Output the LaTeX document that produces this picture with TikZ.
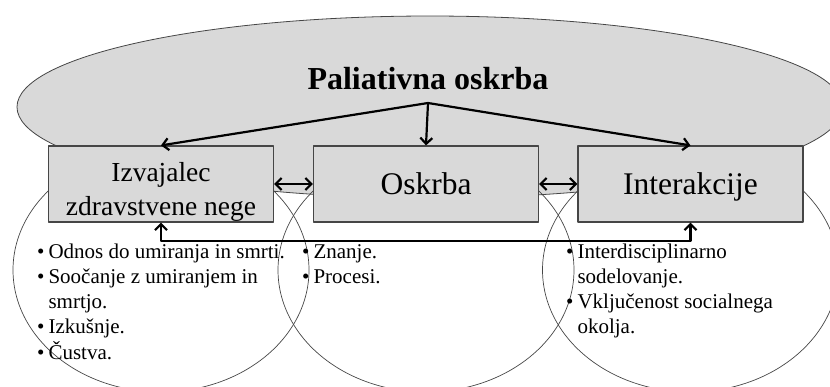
\documentclass[tikz,border=0pt]{standalone}
\usepackage{fontspec}
\setmainfont{Liberation Serif}
\usetikzlibrary{shapes,arrows.meta}
\definecolor{palgray}{RGB}{217,217,217}
\definecolor{edgegray}{RGB}{70,70,70}

\begin{document}
\begin{tikzpicture}[x=1pt,y=-1pt,>={Straight Barb[length=6pt,width=12pt]},line join=round]
\tikzstyle{oval}=[ellipse,draw=edgegray,inner sep=0pt]
\tikzstyle{box}=[rectangle,draw=edgegray,fill=palgray,line width=1.2pt,minimum width=225pt,minimum height=76pt,inner sep=0pt,text depth=0pt,font=\fontsize{31.5}{38}\selectfont]
\tikzstyle{list}=[anchor=base west,inner sep=0pt,font=\fontsize{21}{25.3}\selectfont]
\tikzstyle{link}=[->,line width=2.2pt]
\clip (0,0) rectangle (830,386);

% Paliativna oskrba
\node[oval,fill=palgray,line width=0.8pt,minimum width=826pt,minimum height=182pt] (pal) at (430,107) {};
\node[anchor=base,font=\fontsize{32}{38}\selectfont\bfseries] (title) at (428,89) {Paliativna oskrba};
\coordinate (apex) at (428,103);

% rings
\node[oval,line width=0.7pt,minimum width=296pt,minimum height=244pt] (r1) at (161,270) {};
\node[oval,line width=0.7pt,minimum width=296pt,minimum height=244pt] (r2) at (426,270) {};
\node[oval,line width=0.7pt,minimum width=296pt,minimum height=244pt] (r3) at (690.5,270) {};

% boxes
\node[box,align=center,font=\fontsize{27.5}{34}\selectfont] (izv) at (161,184) {\rule{0pt}{29pt}Izvajalec\\zdravstvene nege};
\node[box] (osk) at (426,184) {Oskrba};
\node[box] (int) at (690.5,184) {Interakcije};

\draw[link] (apex) -- (izv.north);
\draw[link] (apex) -- (osk.north);
\draw[link] (apex) -- (int.north);
\draw[link,<->] (izv.east) -- (osk.west);
\draw[link,<->] (osk.east) -- (int.west);
\draw[link,<->] (izv.south) -- ++(0,18) -| (int.south);

% lists
\node[list] (l1) at (37,258) {\begin{tabular}[t]{@{}l@{\hspace{4pt}}l@{}}
\textbullet & Odnos do umiranja in smrti.\\
\textbullet & Soočanje z umiranjem in\\
 & smrtjo.\\
\textbullet & Izkušnje.\\
\textbullet & Čustva.
\end{tabular}};
\node[list] (l2) at (302,258) {\begin{tabular}[t]{@{}l@{\hspace{4pt}}l@{}}
\textbullet & Znanje.\\
\textbullet & Procesi.
\end{tabular}};
\node[list] (l3) at (566,258) {\begin{tabular}[t]{@{}l@{\hspace{4pt}}l@{}}
\textbullet & Interdisciplinarno\\
 & sodelovanje.\\
\textbullet & Vključenost socialnega\\
 & okolja.
\end{tabular}};
\end{tikzpicture}
\end{document}
